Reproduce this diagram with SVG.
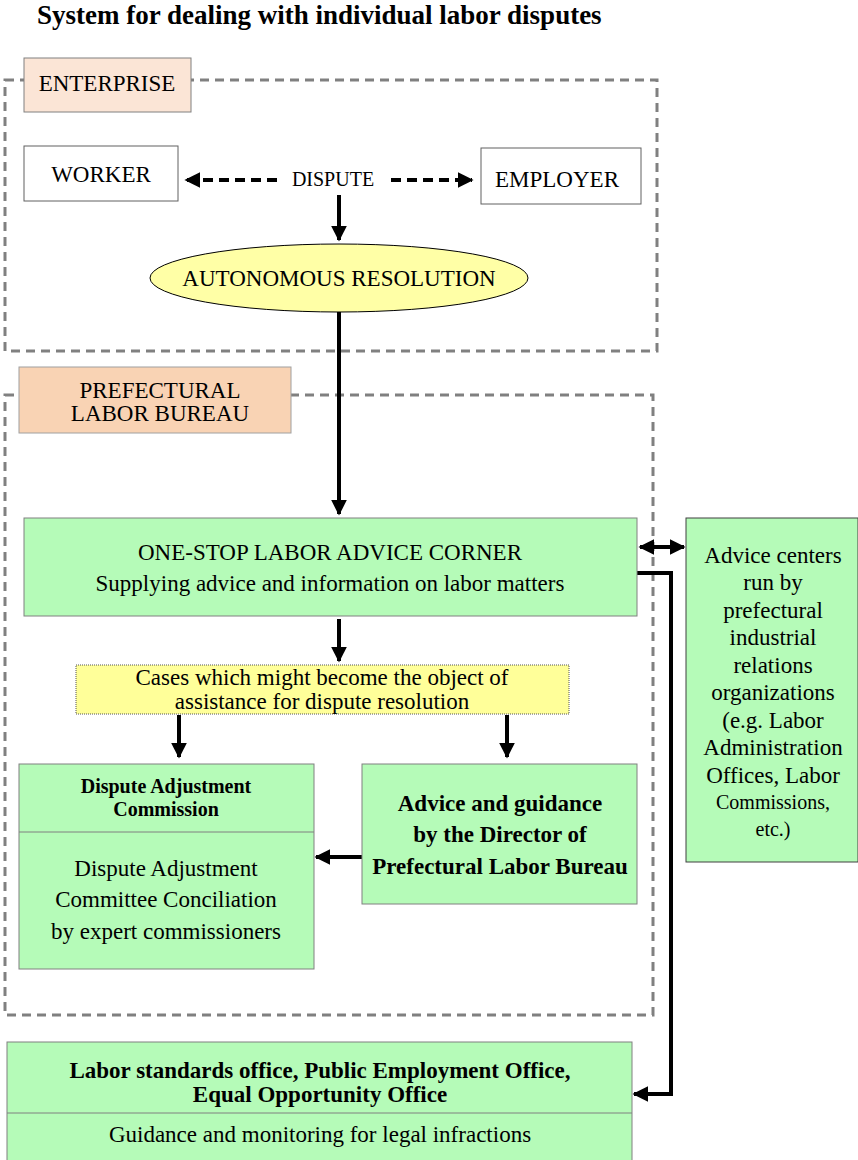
<svg xmlns="http://www.w3.org/2000/svg" width="858" height="1160" viewBox="0 0 858 1160" font-family="'Liberation Serif', 'DejaVu Serif', serif">
<defs>
<style>
text{font-family:'Liberation Serif','DejaVu Serif',serif;fill:#000;text-anchor:middle;font-size:23px}
.b{font-weight:bold}
.s20{font-size:20px}
.grp{fill:none;stroke:#808080;stroke-width:3;stroke-dasharray:9 6}
.green{fill:#b5fbb8;stroke:#808080;stroke-width:1}
.white{fill:#fff;stroke:#606060;stroke-width:1}
.line{fill:none;stroke:#000;stroke-width:4}
</style>
<marker id="ah" viewBox="0 0 10 10" refX="9" refY="5" markerWidth="4" markerHeight="4" orient="auto-start-reverse" markerUnits="strokeWidth">
<path d="M0,0 L10,5 L0,10 z" fill="#000"/>
</marker>
</defs>
<rect width="858" height="1160" fill="#fff"/>
<text x="37" y="24" style="font-size:27px;text-anchor:start" class="b">System for dealing with individual labor disputes</text>

<g id="enterprise-group">
<rect class="grp" x="5" y="80" width="652" height="271"/>
<rect x="24" y="58" width="167" height="54" fill="#fbe5d6" stroke="#808080"/>
<text x="107" y="91">ENTERPRISE</text>
</g>
<g id="prefectural-group">
<rect class="grp" x="5" y="395" width="648" height="620"/>
<rect x="19" y="367" width="272" height="66" fill="#f9d3b4" stroke="#a0a0a0"/>
<text x="160" y="398">PREFECTURAL</text>
<text x="160" y="421">LABOR BUREAU</text>
</g>

<g id="connectors">
<line class="line" x1="277" y1="180" x2="186" y2="180" stroke-dasharray="10 6" marker-end="url(#ah)"/>
<line class="line" x1="391" y1="180" x2="472" y2="180" stroke-dasharray="10 6" marker-end="url(#ah)"/>
<line class="line" x1="339" y1="195" x2="339" y2="240" marker-end="url(#ah)"/>
<line class="line" x1="339" y1="312" x2="339" y2="514" marker-end="url(#ah)"/>
<line class="line" x1="339" y1="619" x2="339" y2="661" marker-end="url(#ah)"/>
<line class="line" x1="179" y1="715" x2="179" y2="757" marker-end="url(#ah)"/>
<line class="line" x1="507" y1="715" x2="507" y2="757" marker-end="url(#ah)"/>
<line class="line" x1="362" y1="857" x2="316" y2="857" marker-end="url(#ah)"/>
<line class="line" x1="640" y1="547" x2="684" y2="547" marker-start="url(#ah)" marker-end="url(#ah)"/>
<polyline class="line" points="637,573 671,573 671,1094 634,1094" marker-end="url(#ah)"/>
</g>

<g id="worker">
<rect class="white" x="24" y="146" width="154" height="55"/>
<text x="101" y="182">WORKER</text>
</g>
<g id="dispute">
<text x="333" y="186" class="s20">DISPUTE</text>
</g>
<g id="employer">
<rect class="white" x="481" y="148" width="160" height="56"/>
<text x="557" y="187">EMPLOYER</text>
</g>
<g id="autonomous">
<ellipse cx="339" cy="278" rx="189" ry="34" fill="#ffffa6" stroke="#000" stroke-width="1"/>
<text x="339" y="286">AUTONOMOUS RESOLUTION</text>
</g>

<g id="one-stop">
<rect class="green" x="24" y="518" width="613" height="98"/>
<text x="330" y="560">ONE-STOP LABOR ADVICE CORNER</text>
<text x="330" y="591">Supplying advice and information on labor matters</text>
</g>

<g id="cases">
<rect x="76" y="665" width="493" height="49" fill="#ffff99" stroke="#555" stroke-width="1" stroke-dasharray="1 1"/>
<text x="322" y="685">Cases which might become the object of</text>
<text x="322" y="709">assistance for dispute resolution</text>
</g>

<g id="dispute-adjustment">
<rect class="green" x="19" y="764" width="295" height="205"/>
<line x1="19" y1="832" x2="314" y2="832" stroke="#808080" stroke-width="1"/>
<text x="166" y="793" class="b s20">Dispute Adjustment</text>
<text x="166" y="816" class="b s20">Commission</text>
<text x="166" y="876">Dispute Adjustment</text>
<text x="166" y="907">Committee Conciliation</text>
<text x="166" y="939">by expert commissioners</text>
</g>

<g id="advice-guidance">
<rect class="green" x="362" y="764" width="275" height="140"/>
<text x="500" y="811" class="b">Advice and guidance</text>
<text x="500" y="842" class="b">by the Director of</text>
<text x="500" y="874" class="b">Prefectural Labor Bureau</text>
</g>

<g id="advice-centers">
<rect x="686" y="518" width="172" height="344" fill="#b5fbb8" stroke="#404040" stroke-width="1"/>
<text x="773" y="563">Advice centers</text>
<text x="773" y="590">run by</text>
<text x="773" y="618">prefectural</text>
<text x="773" y="645">industrial</text>
<text x="773" y="673">relations</text>
<text x="773" y="700">organizations</text>
<text x="773" y="728">(e.g. Labor</text>
<text x="773" y="755">Administration</text>
<text x="773" y="783">Offices, Labor</text>
<text x="773" y="809" class="s20">Commissions,</text>
<text x="773" y="836" class="s20">etc.)</text>
</g>

<g id="labor-standards">
<rect class="green" x="7" y="1042" width="625" height="125"/>
<line x1="7" y1="1113" x2="632" y2="1113" stroke="#808080" stroke-width="1"/>
<text x="320" y="1078" class="b">Labor standards office, Public Employment Office,</text>
<text x="320" y="1102" class="b">Equal Opportunity Office</text>
<text x="320" y="1142">Guidance and monitoring for legal infractions</text>
</g>
</svg>
